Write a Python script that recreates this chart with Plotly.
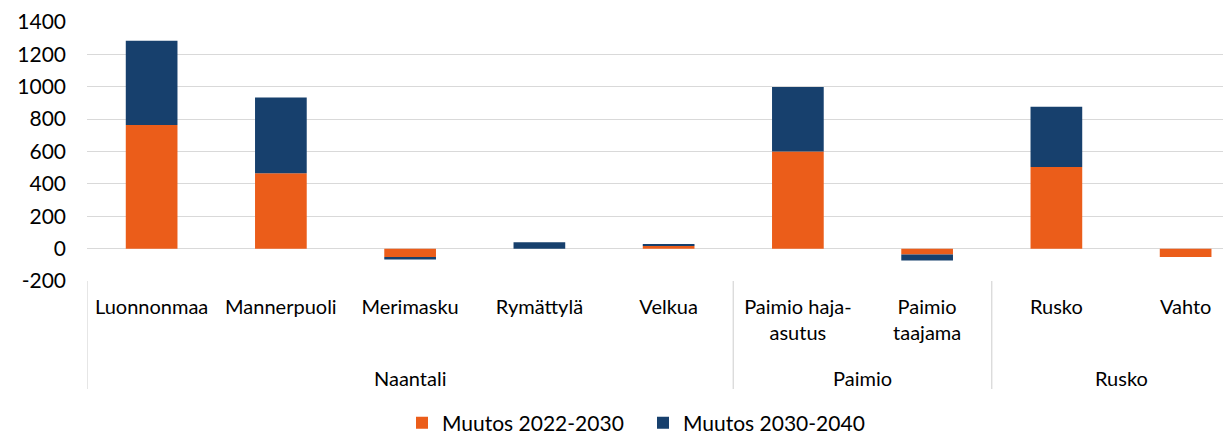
import plotly.graph_objects as go

categories = ["Luonnonmaa", "Mannerpuoli", "Merimasku", "Rymättylä", "Velkua",
              "Paimio haja-<br>asutus", "Paimio<br>taajama", "Rusko", "Vahto"]
groups = ["Naantali", "Paimio", "Rusko"]
group_sizes = [5, 2, 2]
muutos_2022_2030 = [763, 465, -52, 0, 17, 600, -36, 504, -52]
muutos_2030_2040 = [521, 469, -15, 40, 9, 398, -37, 373, 0]
series_names = ["Muutos 2022-2030", "Muutos 2030-2040"]
y_ticks = [-200, 0, 200, 400, 600, 800, 1000, 1200, 1400]

ORANGE = "#EB5D1A"
BLUE = "#17406D"
GRID = "#D9D9D9"
FONT = "Lato"

fig = go.Figure()
fig.add_trace(go.Bar(x=categories, y=muutos_2022_2030, name=series_names[0],
                     marker=dict(color=ORANGE, line=dict(width=0))))
fig.add_trace(go.Bar(x=categories, y=muutos_2030_2040, name=series_names[1],
                     marker=dict(color=BLUE, line=dict(width=0))))

OFF = 8  # default page body margin
W, H = 1231 - OFF, 436 - OFF
ml, mt, mr, mb = 79, 14, 0, 155
plot_h = H - mt - mb
plot_w = W - ml - mr
plot_bottom = H - mb + OFF  # in page pixels


def rel_y(page_y):
    return -(page_y - plot_bottom) / plot_h


def rel_x(page_x):
    return (page_x - OFF - ml) / plot_w


# divider lines below axis
bounds = [-0.5]
acc = 0
for s in group_sizes[:-1]:
    acc += s
    bounds.append(acc - 0.5)
for b in bounds:
    fig.add_shape(type="line", xref="x", yref="paper", x0=b, x1=b, y0=0, y1=rel_y(389),
                  line=dict(color=GRID, width=1.3))

# group labels
acc = 0
for g, s in zip(groups, group_sizes):
    center = acc + (s - 1) / 2
    acc += s
    fig.add_annotation(x=center, xref="x", y=rel_y(378), yref="paper", text=g,
                       showarrow=False, xanchor="center", yanchor="middle",
                       font=dict(family=FONT, size=20, color="#000000"))

fig.update_layout(
    width=W, height=H,
    margin=dict(l=ml, r=mr, t=mt, b=mb, pad=0, autoexpand=False),
    barmode="relative",
    bargap=0.6,
    plot_bgcolor="white", paper_bgcolor="white",
    font=dict(family=FONT, size=20, color="#000000"),
    showlegend=True,
    legend=dict(orientation="h", x=rel_x(402), xanchor="left",
                y=rel_y(423), yanchor="middle",
                font=dict(family=FONT, size=21, color="#000000"),
                traceorder="normal", itemwidth=30, entrywidth=196),
)
fig.update_xaxes(type="category", range=[-0.5, -0.5 + plot_w / 129.25],
                 showgrid=False, showline=False, zeroline=False, ticks="",
                 automargin=False,
                 tickfont=dict(family=FONT, size=20, color="#000000"),
                 ticklabelstandoff=12)
fig.update_yaxes(range=[-200, 1400], tickvals=y_ticks, ticktext=[str(v) for v in y_ticks],
                 showgrid=True, gridcolor=GRID, gridwidth=1.3, zeroline=False,
                 showline=False, ticks="", ticklabelstandoff=20, automargin=False,
                 tickfont=dict(family=FONT, size=21, color="#000000"))

fig.write_html("out.html")
